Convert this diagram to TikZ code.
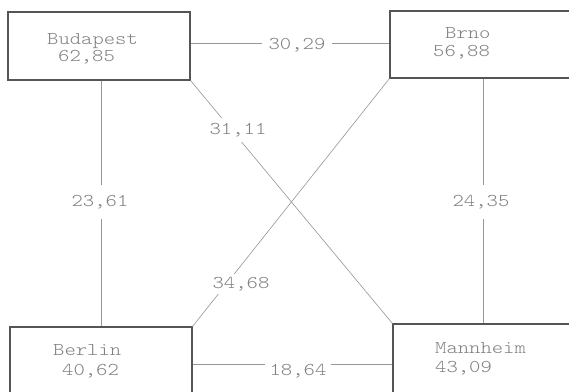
\documentclass[tikz,border=0pt]{standalone}
\usepackage{graphicx}
\definecolor{boxline}{RGB}{85,85,85}
\definecolor{linkline}{RGB}{150,150,150}
\definecolor{inkgray}{RGB}{128,128,128}
\newcommand\tw[1]{\scalebox{1.2}[1]{#1}}
\tikzset{
  city/.style={draw=boxline, line width=1.2pt, rectangle, minimum height=68pt, inner sep=0pt},
  txt/.style={anchor=base west, inner sep=0pt, text=inkgray,
    font=\fontsize{18}{20}\fontseries{l}\ttfamily},
  link/.style={draw=linkline, line width=0.6pt},
  dist/.style={fill=white, text=inkgray, inner xsep=7pt, inner ysep=2pt,
    font=\fontsize{18}{20}\fontseries{l}\ttfamily},
  vdist/.style={dist, inner xsep=2pt, inner ysep=10pt}
}
\begin{document}
\begin{tikzpicture}[x=1pt,y=1pt]
\useasboundingbox (0,0) rectangle (569,391);
\clip (0,0) rectangle (569,391);
\fill[white] (0,0) rectangle (569,391);

% city boxes (the right and lower ones run past the page edge)
\node[city, minimum width=182pt] (bud) at (99,345) {};
\node[city, minimum width=240pt, minimum height=67pt] (brn) at (510,346.5) {};
\node[city, minimum width=182pt, minimum height=90pt] (ber) at (101,19) {};
\node[city, minimum width=240pt, minimum height=90pt] (man) at (513,22) {};

% city names and values
\node[txt] (budn) at (47,346) {\tw{Budapest}};
\node[txt] (budv) at (58,329) {\tw{62,85}};
\node[txt] (brnn) at (445,352) {\tw{Brno}};
\node[txt] (brnv) at (433,334) {\tw{56,88}};
\node[txt] (bern) at (53,36) {\tw{Berlin}};
\node[txt] (berv) at (62,16) {\tw{40,62}};
\node[txt] (mann) at (435,38) {\tw{Mannheim}};
\node[txt] (manv) at (435,19) {\tw{43,09}};

% connections
\path[link] ([yshift=3pt]bud.east) -- ([yshift=1.5pt]brn.west);
\path[link] ([yshift=8pt]ber.east) -- ([yshift=5pt]man.west);
\path[link] (ber.north |- bud.south) -- (ber.north);
\path[link] ([xshift=-27pt]brn.south) -- ([xshift=-30pt]man.north);
\path[link] (bud.south east) -- (man.north west);
\path[link] (brn.south west) -- (ber.north east);

% distances
\node[dist] (d1) at (297,346) {\tw{30,29}};
\node[dist, inner xsep=5pt] (d2) at (298,20) {\tw{18,64}};
\node[vdist] (d3) at (100,189) {\tw{23,61}};
\node[vdist] (d4) at (481,189) {\tw{24,35}};
\node[dist, inner xsep=3pt, inner ysep=5pt] (d5) at (238,261) {\tw{31,11}};
\node[dist, inner xsep=2pt, inner ysep=3pt] (d6) at (241,107) {\tw{34,68}};
\end{tikzpicture}
\end{document}
